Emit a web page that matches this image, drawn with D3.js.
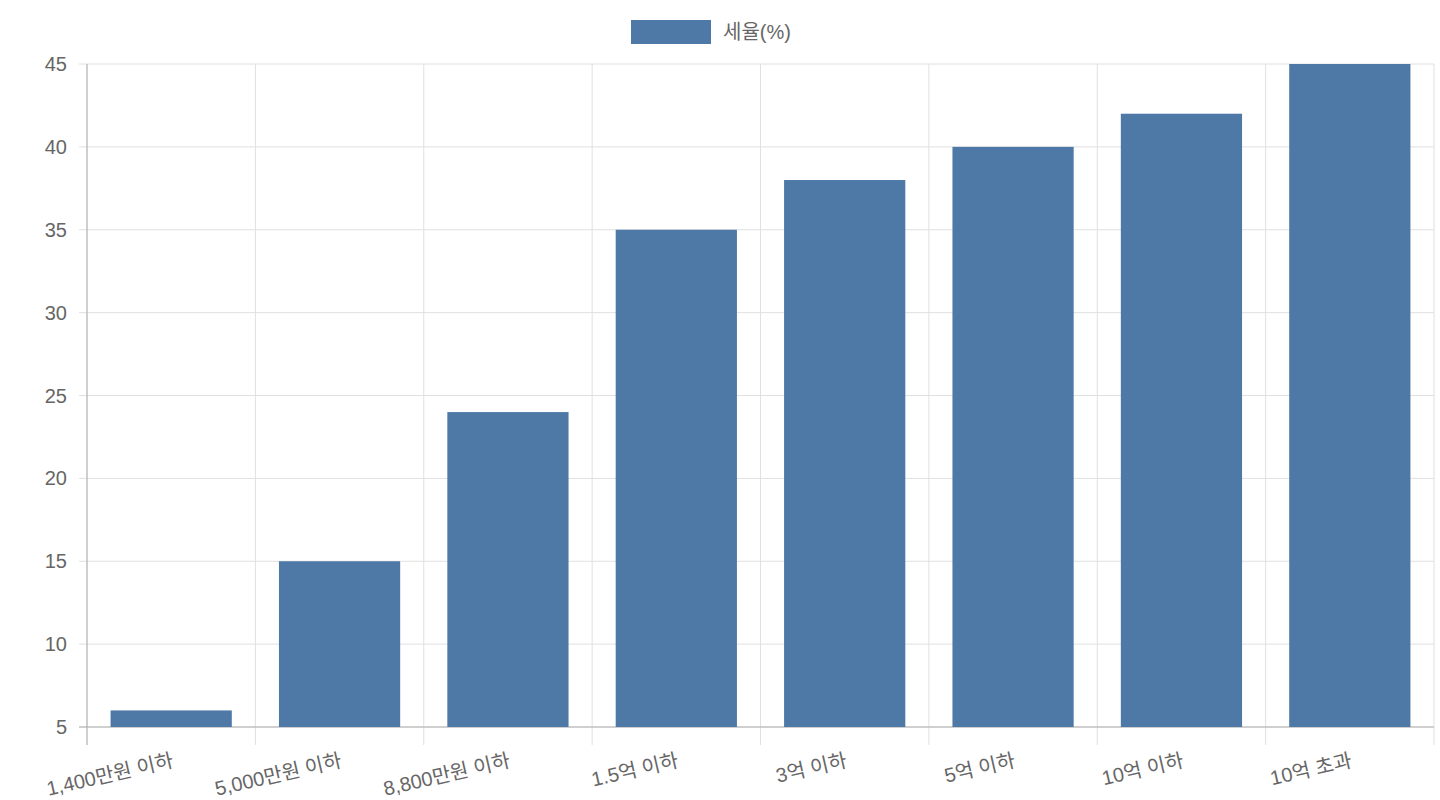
<!DOCTYPE html>
<html>
<head>
<meta charset="utf-8">
<script src="https://cdn.jsdelivr.net/npm/d3@7"></script>
<style>
  body { margin: 0; background: #fff; }
  text { font-family: "Liberation Sans", "Noto Sans CJK KR", sans-serif; fill: #666; }
</style>
</head>
<body>
<div id="chart"></div>
<script>
var categories = ["1,400만원 이하", "5,000만원 이하", "8,800만원 이하", "1.5억 이하", "3억 이하", "5억 이하", "10억 이하", "10억 초과"];
var rates = [6, 15, 24, 35, 38, 40, 42, 45];
var yTicks = [5, 10, 15, 20, 25, 30, 35, 40, 45];
var seriesName = "세율(%)";

var W = 1440, H = 800;
var margin = {top: 64, right: 6, bottom: 73, left: 87};

var svg = d3.select("#chart").append("svg")
  .attr("width", W)
  .attr("height", H);

var x = d3.scaleBand()
  .domain(categories)
  .range([margin.left, W - margin.right])
  .paddingInner(0.28)
  .paddingOuter(0.14);

var band = d3.scaleBand()
  .domain(categories)
  .range([margin.left, W - margin.right]);

var y = d3.scaleLinear()
  .domain([5, 45])
  .range([H - margin.bottom, margin.top]);

// horizontal grid
svg.append("g").selectAll("line")
  .data(yTicks)
  .enter().append("line")
  .attr("x1", margin.left - 8)
  .attr("x2", W - margin.right)
  .attr("y1", function(d){ return y(d); })
  .attr("y2", function(d){ return y(d); })
  .attr("stroke", "#e0e0e0");

// vertical grid at band edges
var edges = categories.map(function(c){ return band(c); }).concat([W - margin.right]);
svg.append("g").selectAll("line")
  .data(edges)
  .enter().append("line")
  .attr("x1", function(d){ return d; })
  .attr("x2", function(d){ return d; })
  .attr("y1", margin.top)
  .attr("y2", H - margin.bottom + 18)
  .attr("stroke", "#e0e0e0");

// axis lines
svg.append("line")
  .attr("x1", margin.left).attr("x2", margin.left)
  .attr("y1", margin.top).attr("y2", H - margin.bottom + 18)
  .attr("stroke", "#b0b0b0");
svg.append("line")
  .attr("x1", margin.left - 8).attr("x2", W - margin.right)
  .attr("y1", y(5)).attr("y2", y(5))
  .attr("stroke", "#b0b0b0");

// bars
svg.append("g").selectAll("rect")
  .data(rates)
  .enter().append("rect")
  .attr("x", function(d, i){ return x(categories[i]); })
  .attr("width", x.bandwidth())
  .attr("y", function(d){ return y(d); })
  .attr("height", function(d){ return y(5) - y(d); })
  .attr("fill", "#4e79a7");

// y labels
svg.append("g").selectAll("text")
  .data(yTicks)
  .enter().append("text")
  .attr("x", margin.left - 20)
  .attr("y", function(d){ return y(d); })
  .attr("dy", "0.35em")
  .attr("text-anchor", "end")
  .style("font-size", "20px")
  .text(function(d){ return d; });

// x labels, rotated
svg.append("g").selectAll("text")
  .data(categories)
  .enter().append("text")
  .attr("transform", function(d){
    return "translate(" + (band(d) + band.bandwidth() / 2) + "," + (H - margin.bottom + 26) + ") rotate(-13)";
  })
  .attr("text-anchor", "end")
  .attr("dy", "0.7em")
  .style("font-size", "20px")
  .text(function(d){ return d; });

// legend
svg.append("rect")
  .attr("x", 631).attr("y", 20)
  .attr("width", 80).attr("height", 24)
  .attr("fill", "#4e79a7");
svg.append("text")
  .attr("x", 723).attr("y", 32)
  .attr("dy", "0.35em")
  .style("font-size", "20px")
  .text(seriesName);
</script>
</body>
</html>
